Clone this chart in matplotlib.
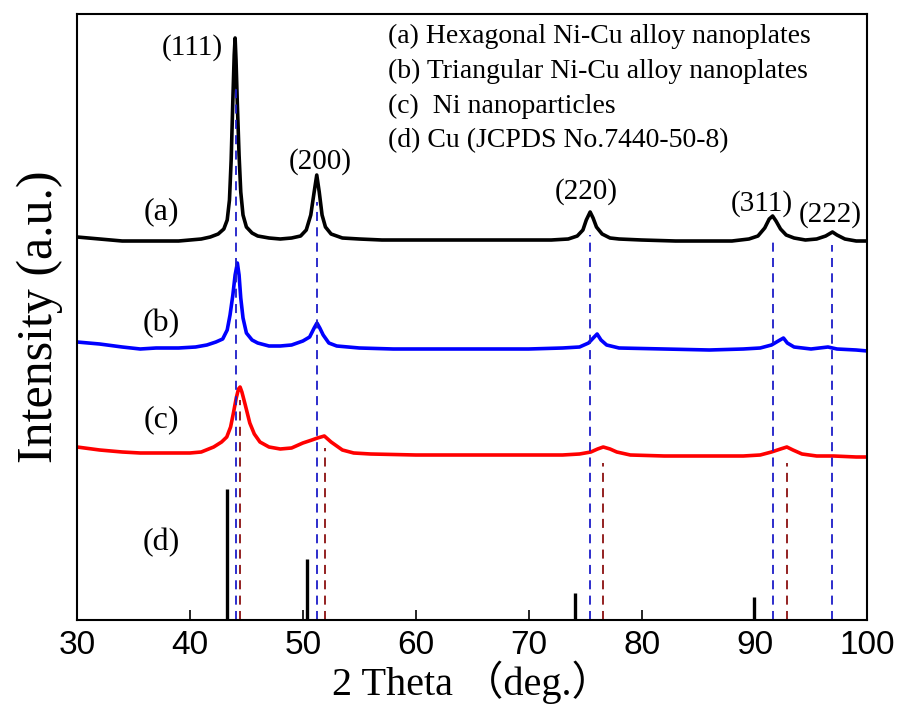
import matplotlib
matplotlib.use('Agg')
import matplotlib.pyplot as plt

# (a) hexagonal Ni-Cu nanoplates
tt_a = [30, 31, 32, 33, 34, 35, 36, 37, 38, 39, 40, 41, 41.8, 42.5, 43.0, 43.3, 43.5, 43.65,
        43.8, 43.92, 44.0, 44.08, 44.2, 44.35, 44.5, 44.7, 45.0, 45.5, 46.0, 47, 48, 49, 49.8,
        50.3, 50.7, 51.0, 51.23, 51.45, 51.7, 52.0, 52.5, 53.5, 55, 57, 60, 63, 66, 69, 72,
        73.5, 74.3, 74.8, 75.1, 75.44, 75.7, 76.0, 76.5, 77.2, 78, 80, 83, 86, 88, 89.5, 90.3,
        90.9, 91.3, 91.6, 91.9, 92.3, 92.8, 93.5, 94.5, 95.5, 96.3, 96.9, 97.3, 98, 99, 100]
int_a = [383, 382, 381, 380, 379, 379, 379, 379, 379, 379, 380, 381, 383, 386, 391, 400, 420, 460,
         520, 565, 582, 560, 515, 465, 428, 405, 393, 387, 384, 382, 381, 382, 384,
         390, 405, 428, 445, 428, 405, 393, 386, 382, 381, 380, 380, 380, 380, 380, 380,
         381, 384, 390, 400, 408, 402, 393, 386, 382, 381, 380, 379, 379, 379, 381, 384,
         392, 401, 404, 399, 391, 385, 382, 380, 381, 384, 388, 385, 381, 379, 379]

# (b) triangular Ni-Cu nanoplates
tt_b = [30, 32, 34, 35.6, 37, 39, 40.5, 41.5, 42.3, 42.9, 43.3, 43.55, 43.8, 44.0, 44.2, 44.35,
        44.5, 44.7, 45.0, 45.5, 46.0, 47, 48, 49, 50.0, 50.6, 51.0, 51.25, 51.5, 51.8, 52.3, 53,
        55, 58, 62, 66, 70, 73, 74.5, 75.3, 75.8, 76.06, 76.4, 76.9, 78, 82, 86, 89, 90.5,
        91.5, 92.1, 92.56, 92.9, 93.5, 95, 96.5, 97.3, 99, 100]
int_b = [278, 276, 273, 271, 272, 272, 273, 275, 278, 281, 290, 305, 325, 345, 357, 345,
         322, 302, 287, 280, 277, 274, 274, 275, 279, 283, 292, 297, 292, 285, 277, 274,
         272, 271, 271, 271, 271, 272, 273, 277, 283, 286, 280, 275, 272, 271, 270, 271, 272,
         275, 279, 282, 277, 273, 271, 273, 271, 270, 269]

# (c) Ni nanoparticles
tt_c = [30, 32, 34, 35.6, 37, 38, 39, 40, 41, 42.1, 42.8, 43.26, 43.6, 43.85, 44.1, 44.3, 44.44,
        44.6, 44.9, 45.3, 45.7, 46.2, 47, 48, 49, 50, 50.8, 51.3, 51.9, 52.5, 53, 53.5, 54.5,
        56, 60, 65, 70, 73, 74.5, 75.5, 76.1, 76.6, 77.2, 77.8, 79, 82, 86, 89, 90.5, 91.5,
        92.3, 92.86, 93.4, 94.2, 95.5, 97, 99, 100]
int_c = [173, 170, 168, 167, 167, 167, 167, 167, 168, 173, 178, 183, 193, 207, 222, 231, 233,
         228, 215, 197, 186, 178, 173, 171, 172, 177, 180, 182, 184, 178, 174, 170, 167,
         166, 165, 165, 165, 165, 166, 168, 171, 173, 171, 168, 165, 164, 164, 164, 165, 168,
         171, 173, 170, 166, 164, 164, 163, 163]

# (d) Cu reference, JCPDS
cu_pos = [43.26, 50.37, 74.1, 89.96]
cu_int = [131, 61, 27, 23]

# guide lines
alloy_pos = [44.05, 51.25, 75.45, 91.6, 96.9]
alloy_top = [533, 418, 385, 380, 375]
ni_pos = [44.45, 51.95, 76.6, 92.85]
ni_top = [220, 172, 157, 157]

hkl = ['(111)', '(200)', '(220)', '(311)', '(222)']
hkl_x = [40.2, 51.5, 75.1, 90.6, 96.7]
hkl_y = [572, 458, 428, 416, 405]

legend_lines = ['(a) Hexagonal Ni-Cu alloy nanoplates',
                '(b) Triangular Ni-Cu alloy nanoplates',
                '(c)  Ni nanoparticles',
                '(d) Cu (JCPDS No.7440-50-8)']

serif = 'Liberation Serif'

fig = plt.figure(figsize=(9.04, 7.11), dpi=100)
ax = fig.add_axes([0.0852, 0.128, 0.8744, 0.8523])

ax.plot(tt_a, int_a, color='black', lw=2.6)
ax.plot(tt_b, int_b, color='#0000ff', lw=2.6)
ax.plot(tt_c, int_c, color='#ff0000', lw=2.6)
ax.vlines(cu_pos, 0, cu_int, color='black', lw=2.4)

for x, top in zip(alloy_pos, alloy_top):
    ax.plot([x, x], [0, top], color='#1c1cc8', lw=1.3, dashes=(5, 3.5))
for x, top in zip(ni_pos, ni_top):
    ax.plot([x, x], [0, top], color='#8b1010', lw=1.3, dashes=(5, 3.5))

for lab, x, y in zip(hkl, hkl_x, hkl_y):
    ax.text(x, y, lab, ha='center', va='center', fontsize=21, family=serif)

for lab, y in zip(['(a)', '(b)', '(c)', '(d)'], [408, 296, 200, 77]):
    ax.text(37.5, y, lab, ha='center', va='center', fontsize=23, family=serif)

for i, line in enumerate(legend_lines):
    ax.text(0.394, 0.963 - i * 0.0575, line, transform=ax.transAxes,
            ha='left', va='center', fontsize=20, family=serif)

ax.set_xlim(30, 100)
ax.set_ylim(0, 606)
ax.set_xticks([30, 40, 50, 60, 70, 80, 90, 100])
ax.set_yticks([])
ax.tick_params(axis='x', direction='in', length=7, width=1.2, pad=7,
               labelsize=24, top=False)
for lbl in ax.get_xticklabels():
    lbl.set_family(['Liberation Sans Narrow', 'Liberation Sans'])
for s in ax.spines.values():
    s.set_linewidth(1.5)

ax.set_xlabel('2 Theta （deg.）', fontsize=29, family=[serif, 'Noto Sans CJK SC'], labelpad=0)
ax.set_ylabel('Intensity (a.u.)', fontsize=36, family=serif, labelpad=10)

fig.savefig('out.png', dpi=100)
